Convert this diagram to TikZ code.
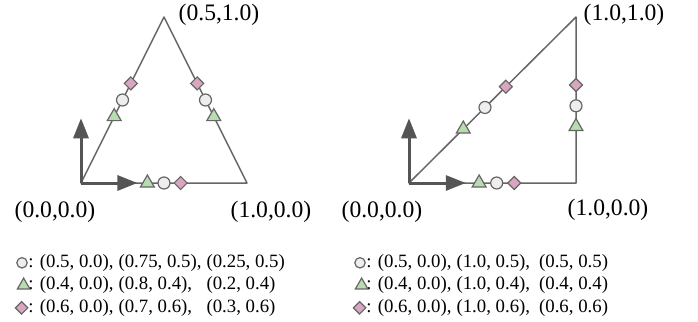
\documentclass[tikz,border=0pt]{standalone}
\usepackage{fontspec}
\setmainfont{Liberation Serif}
\usetikzlibrary{matrix,positioning,shapes.geometric,arrows.meta}

\definecolor{edgegray}{HTML}{666666}
\definecolor{axisgray}{HTML}{555555}
\definecolor{circfill}{HTML}{EEEEEE}
\definecolor{trifill}{HTML}{B7DCB0}
\definecolor{diafill}{HTML}{D8A6C0}

\tikzset{
    edge/.style={draw=edgegray, line width=0.75pt, line join=round},
    axis/.style={draw=axisgray, line width=1.5pt, -{Triangle[length=10pt,width=7.5pt]}},
    mark base/.style={draw=edgegray, line width=0.6pt, inner sep=0pt, outer sep=0pt},
    circmark/.style={mark base, circle, fill=circfill, minimum size=6pt},
    trimark/.style={mark base, regular polygon, regular polygon sides=3, fill=trifill, minimum size=8pt},
    diamark/.style={mark base, diamond, fill=diafill, minimum width=6.5pt, minimum height=6.5pt},
    small circ/.style={circmark, minimum size=5.2pt},
    small tri/.style={trimark, minimum size=7.2pt},
    small dia/.style={diamark, minimum width=6.2pt, minimum height=6.2pt},
    corner/.style={font=\fontsize{11.8}{14}\selectfont, inner sep=0pt},
    legend/.style={matrix of nodes, inner sep=0pt, anchor=north west,
        column sep=0.25em, row sep=1.85pt,
        nodes={anchor=base west, inner sep=0pt, outer sep=0pt,
            text height=7pt, text depth=2.4pt, font=\fontsize{9.4}{11}\selectfont}}
}

\begin{document}
\begin{tikzpicture}[x=0.5pt,y=-0.5pt]
    \useasboundingbox (0,0) rectangle (698,322);

    % first frame: triangle
    \begin{scope}[shift={(81,183)},x=83pt,y=83pt]
        \coordinate (L0) at (0,0);
        \coordinate (L1) at (1,0);
        \coordinate (L2) at (0.5,1);
        \coordinate (Lx) at (0.34,0);
        \coordinate (Ly) at (0,0.39);
        \draw[edge] (L0) -- (L1) -- (L2) -- cycle;
        \draw[axis] (L0) -- (Lx);
        \draw[axis] (L0) -- (Ly);
        % sample points
        \node[trimark] (lt1) at (0.4,0) {};
        \node[circmark] (lc1) at (0.5,0) {};
        \node[diamark] (ld1) at (0.6,0) {};
        \node[trimark] (lt2) at (0.8,0.4) {};
        \node[circmark] (lc2) at (0.75,0.5) {};
        \node[diamark] (ld2) at (0.7,0.6) {};
        \node[trimark] (lt3) at (0.2,0.4) {};
        \node[circmark] (lc3) at (0.25,0.5) {};
        \node[diamark] (ld3) at (0.3,0.6) {};
    \end{scope}

    % second frame: right triangle
    \begin{scope}[shift={(409,183)},x=83.5pt,y=83pt]
        \coordinate (R0) at (0,0);
        \coordinate (R1) at (1,0);
        \coordinate (R2) at (1,1);
        \coordinate (Rx) at (0.34,0);
        \coordinate (Ry) at (0,0.39);
        \draw[edge] (R0) -- (R1) -- (R2) -- cycle;
        \draw[axis] (R0) -- (Rx);
        \draw[axis] (R0) -- (Ry);
        % sample points
        \node[trimark] (rt1) at (0.42,0) {};
        \node[circmark] (rc1) at (0.525,0) {};
        \node[diamark] (rd1) at (0.63,0) {};
        \node[trimark] (rt2) at (1,0.34) {};
        \node[circmark] (rc2) at (1,0.465) {};
        \node[diamark] (rd2) at (1,0.59) {};
        \node[trimark] (rt3) at (0.325,0.325) {};
        \node[circmark] (rc3) at (0.455,0.455) {};
        \node[diamark] (rd3) at (0.58,0.58) {};
    \end{scope}

    % corner labels
    \node[corner] (lab-L0) at (55,212) {(0.0,0.0)};
    \node[corner] (lab-L1) at (271,212) {(1.0,0.0)};
    \node[corner] (lab-L2) at (219,15) {(0.5,1.0)};
    \node[corner] (lab-R0) at (382,212) {(0.0,0.0)};
    \node[corner] (lab-R1) at (608,210) {(1.0,0.0)};
    \node[corner] (lab-R2) at (624,15) {(1.0,1.0)};

    % legends
    \matrix (legl) [legend] at (28,253) {
        : (0.5, 0.0), & (0.75, 0.5), & (0.25, 0.5) \\
        : (0.4, 0.0), & (0.8, 0.4), & (0.2, 0.4) \\
        : (0.6, 0.0), & (0.7, 0.6), & (0.3, 0.6) \\};
    \node[small circ, left=0.6pt of legl-1-1.west] {};
    \node[small tri, left=0.3pt of legl-2-1.west] {};
    \node[small dia, left=0.3pt of legl-3-1.west] {};

    \matrix (legr) [legend] at (366,253) {
        : (0.5, 0.0), & (1.0, 0.5), &[0.2em] (0.5, 0.5) \\
        : (0.4, 0.0), & (1.0, 0.4), & (0.4, 0.4) \\
        : (0.6, 0.0), & (1.0, 0.6), & (0.6, 0.6) \\};
    \node[small circ, left=0.6pt of legr-1-1.west] {};
    \node[small tri, left=0.3pt of legr-2-1.west] {};
    \node[small dia, left=0.3pt of legr-3-1.west] {};
\end{tikzpicture}
\end{document}
